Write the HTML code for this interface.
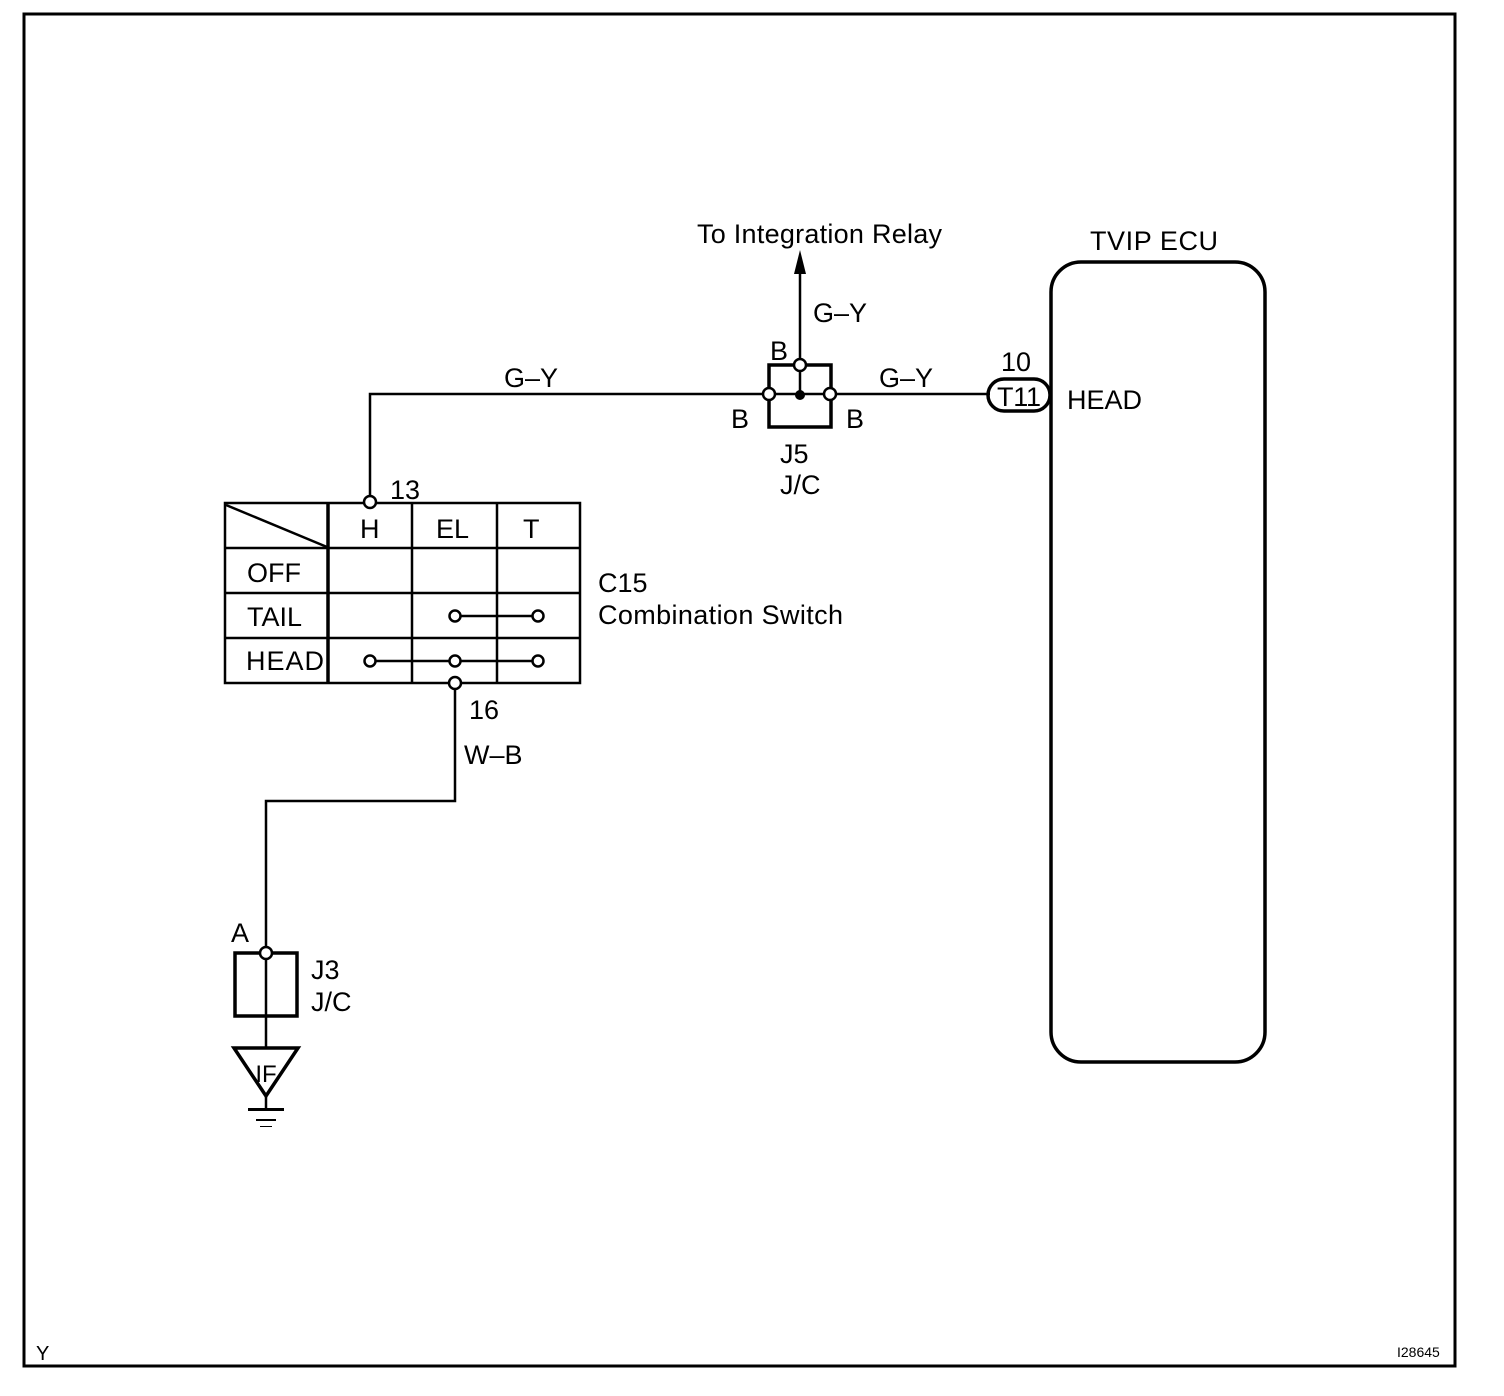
<!DOCTYPE html>
<html><head><style>body{margin:0;background:#fff}svg{display:block}</style></head><body>
<svg width="1504" height="1396" xmlns="http://www.w3.org/2000/svg" font-family="Liberation Sans, Arial, sans-serif" font-size="27" fill="#000">
<rect x="0" y="0" width="1504" height="1396" fill="#fff"/>
<rect x="24" y="14" width="1431" height="1352" fill="none" stroke="#000" stroke-width="3"/>
<g stroke="#000" stroke-width="2.5" fill="none">
<polyline points="370,497 370,394 769,394"/>
<line x1="830" y1="394" x2="990" y2="394"/>
<line x1="800" y1="365" x2="800" y2="270"/>
<polyline points="455,690 455,801 266,801 266,953"/>
<line x1="266" y1="953" x2="266" y2="1047"/>
<line x1="266" y1="1097" x2="266" y2="1110"/>
<path d="M769,365 H831 V427 H769 Z" stroke-width="3.5"/>
<line x1="800" y1="365" x2="800" y2="394"/>
<line x1="769" y1="394" x2="831" y2="394"/>
<rect x="235" y="953" width="62" height="63" stroke-width="3.5"/>
<polygon points="234,1048 298,1048 266,1096" stroke-width="3.5"/>
<rect x="1051" y="262" width="214" height="800" rx="30" stroke-width="3.5"/>
<rect x="988" y="379" width="62" height="32" rx="16" stroke-width="3.5"/>
<rect x="225" y="503" width="355" height="180"/>
<line x1="328" y1="503" x2="328" y2="683" stroke-width="3.5"/>
<line x1="412" y1="503" x2="412" y2="683"/>
<line x1="497" y1="503" x2="497" y2="683"/>
<line x1="225" y1="548" x2="580" y2="548"/>
<line x1="225" y1="593" x2="580" y2="593"/>
<line x1="225" y1="638" x2="580" y2="638"/>
<line x1="226" y1="505" x2="327" y2="547"/>
<line x1="455" y1="616" x2="538" y2="616"/>
<line x1="370" y1="661" x2="538" y2="661"/>
</g>
<polygon points="800,250 794,274 806,274"/>
<rect x="248" y="1108" width="36" height="3"/>
<rect x="256" y="1119" width="20" height="2"/>
<rect x="260" y="1126" width="12" height="1"/>
<g fill="#fff" stroke="#000" stroke-width="2.5">
<circle cx="800" cy="365" r="6"/><circle cx="769" cy="394" r="6"/><circle cx="830" cy="394" r="6"/>
<circle cx="370" cy="502" r="6"/><circle cx="455" cy="683" r="6"/>
<circle cx="455" cy="616" r="5.5"/><circle cx="538" cy="616" r="5.5"/>
<circle cx="370" cy="661" r="5.5"/><circle cx="455" cy="661" r="5.5"/><circle cx="538" cy="661" r="5.5"/>
<circle cx="266" cy="953" r="6"/>
</g>
<circle cx="800" cy="395" r="5"/>
<text x="697" y="243" textLength="245">To Integration Relay</text>
<text x="813" y="322">G–Y</text>
<text x="770" y="360">B</text>
<text x="504" y="387">G–Y</text>
<text x="879" y="387">G–Y</text>
<text x="731" y="428">B</text>
<text x="846" y="428">B</text>
<text x="780" y="463">J5</text>
<text x="780" y="494">J/C</text>
<text x="1001" y="371">10</text>
<text x="997" y="406" textLength="44">T11</text>
<text x="1067" y="409">HEAD</text>
<text x="1090" y="250" textLength="128">TVIP ECU</text>
<text x="390" y="499">13</text>
<text x="360" y="538">H</text>
<text x="436" y="538">EL</text>
<text x="523" y="538">T</text>
<text x="247" y="582">OFF</text>
<text x="247" y="626">TAIL</text>
<text x="246" y="670" textLength="78">HEAD</text>
<text x="598" y="592">C15</text>
<text x="598" y="624" textLength="245">Combination Switch</text>
<text x="469" y="719">16</text>
<text x="464" y="764">W–B</text>
<text x="231" y="942">A</text>
<text x="311" y="979">J3</text>
<text x="311" y="1011">J/C</text>
<text x="266" y="1082" font-size="24" text-anchor="middle">IF</text>
<text x="36" y="1360" font-size="20">Y</text>
<text x="1397" y="1357" font-size="14">I28645</text>
</svg>
</body></html>
